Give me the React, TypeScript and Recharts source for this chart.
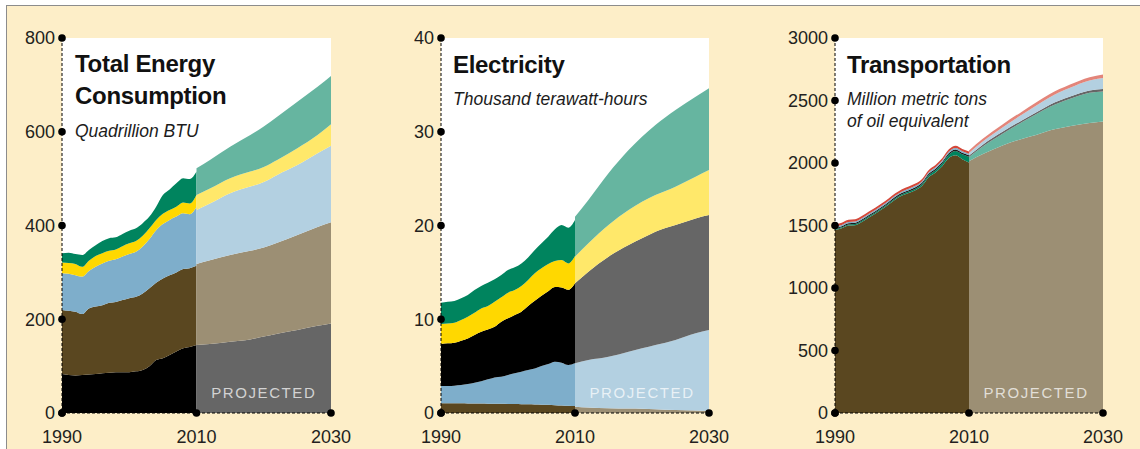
import { Area, AreaChart, CartesianGrid, ReferenceLine, XAxis, YAxis } from "recharts";

const FONT = '"Liberation Sans", Arial, sans-serif';

// shared year grids
const histYears = [
  1990, 1991, 1992, 1993, 1994, 1995, 1996, 1997, 1998, 1999, 2000,
  2001, 2002, 2003, 2004, 2005, 2006, 2007, 2008, 2009, 2010,
];
const projYears = [2010, 2012, 2015, 2018, 2020, 2022, 2025, 2028, 2030];
const xTicks = [1990, 2010, 2030];

// Total energy consumption, quadrillion BTU (stack bottom -> top)
const energyCoalHist = [83, 81, 80, 81, 82, 83, 85, 86, 87, 87, 87, 89, 92, 100, 113, 117, 124, 131, 138, 141, 145];
const energyOilHist = [137, 137, 136, 130, 141, 144, 145, 149, 150, 154, 158, 159, 163, 166, 165, 170, 170, 169, 169, 168, 169];
const energyGasHist = [78, 79, 78, 80, 80, 85, 89, 90, 91, 93, 94, 96, 100, 105, 112, 116, 118, 119, 119, 115, 126];
const energyNuclearHist = [23, 23, 24, 21, 22, 23, 22, 21, 21, 22, 23, 23, 23, 23, 22, 22, 21, 21, 23, 23, 25];
const energyRenewHist = [20, 22, 21, 25, 23, 23, 26, 27, 26, 26, 27, 27, 27, 25, 28, 40, 44, 50, 52, 52, 50];
const energyCoalProj = [145, 147, 152, 157, 163, 169, 177, 186, 191];
const energyOilProj = [173, 179, 185, 189, 190, 194, 203, 211, 216];
const energyGasProj = [115, 121, 132, 137, 140, 145, 149, 157, 163];
const energyNuclearProj = [32, 32, 32, 32, 32, 32, 36, 39, 46];
const energyRenewProj = [57, 61, 67, 78, 86, 92, 99, 103, 103];
const energyTicks = [0, 200, 400, 600, 800];

// Electricity, thousand TWh
const elecOilHist = [1.05, 1.05, 1.04, 1.03, 1.02, 1.02, 1.01, 1.0, 0.99, 0.98, 0.97, 0.96, 0.94, 0.93, 0.91, 0.89, 0.87, 0.84, 0.81, 0.78, 0.75];
const elecGasHist = [1.83, 1.83, 1.88, 1.96, 2.07, 2.22, 2.37, 2.59, 2.81, 2.89, 3.08, 3.27, 3.47, 3.66, 3.85, 4.12, 4.36, 4.64, 4.56, 4.34, 4.55];
const elecCoalHist = [4.48, 4.55, 4.58, 4.73, 4.87, 5.08, 5.3, 5.33, 5.4, 5.87, 6.05, 6.22, 6.4, 6.82, 7.22, 7.49, 7.77, 7.97, 8.03, 8.03, 8.55];
const elecNuclearHist = [2.13, 2.13, 2.13, 2.2, 2.32, 2.38, 2.48, 2.49, 2.67, 2.6, 2.74, 2.67, 2.74, 2.78, 2.92, 2.93, 2.89, 2.76, 2.92, 2.81, 2.9];
const elecRenewHist = [2.28, 2.31, 2.32, 2.31, 2.31, 2.42, 2.39, 2.49, 2.39, 2.38, 2.41, 2.42, 2.41, 2.41, 2.49, 2.67, 2.92, 3.38, 3.73, 3.81, 3.85];
const elecOilProj = [0.68, 0.6, 0.5, 0.47, 0.45, 0.4, 0.32, 0.28, 0.25];
const elecGasProj = [4.62, 5.05, 5.5, 6.07, 6.45, 6.85, 7.47, 8.22, 8.6];
const elecCoalProj = [8.53, 9.43, 10.68, 11.38, 11.73, 12.09, 12.26, 12.26, 12.27];
const elecNuclearProj = [2.85, 3.02, 3.37, 3.73, 3.91, 3.91, 4.09, 4.45, 4.8];
const elecRenewProj = [4.26, 4.62, 5.52, 6.4, 6.93, 7.47, 8.18, 8.53, 8.71];
const elecTicks = [0, 10, 20, 30, 40];

// Transportation, million tonnes oil equivalent
const transOilHist = [1465, 1478, 1500, 1503, 1528, 1562, 1595, 1630, 1668, 1708, 1740, 1760, 1782, 1818, 1888, 1925, 1975, 2040, 2062, 2030, 2005];
const transBioHist = [8, 8, 9, 9, 10, 10, 10, 10, 10, 11, 11, 12, 13, 14, 16, 18, 22, 28, 35, 40, 45];
const transGasHist = [9, 9, 9, 10, 10, 10, 10, 10, 11, 11, 11, 11, 12, 12, 12, 12, 12, 12, 12, 12, 12];
const transElecHist = [10, 10, 10, 10, 10, 10, 10, 10, 10, 10, 11, 11, 11, 11, 11, 12, 12, 12, 12, 13, 13];
const transOtherHist = [18, 18, 18, 18, 18, 18, 18, 18, 18, 18, 18, 18, 18, 18, 18, 18, 18, 18, 18, 18, 18];
const transOilProj = [2015, 2070, 2140, 2195, 2225, 2260, 2295, 2320, 2332];
const transBioProj = [33, 60, 95, 135, 165, 188, 217, 242, 240];
const transGasProj = [12, 15, 15, 15, 15, 17, 18, 18, 20];
const transElecProj = [20, 25, 35, 45, 53, 60, 70, 80, 88];
const transOtherProj = [20, 22, 24, 25, 26, 26, 26, 27, 28];
const transTicks = [0, 500, 1000, 1500, 2000, 2500, 3000];

type Layer = { key: string; hist: number[]; proj: number[]; dark: string; light: string };

const energyLayers: Layer[] = [
  { key: "coal", hist: energyCoalHist, proj: energyCoalProj, dark: "#000000", light: "#666666" },
  { key: "oil", hist: energyOilHist, proj: energyOilProj, dark: "#5a4720", light: "#9c8f74" },
  { key: "gas", hist: energyGasHist, proj: energyGasProj, dark: "#7eaecb", light: "#b3d0e1" },
  { key: "nuclear", hist: energyNuclearHist, proj: energyNuclearProj, dark: "#ffd800", light: "#ffe86a" },
  { key: "renew", hist: energyRenewHist, proj: energyRenewProj, dark: "#00845e", light: "#66b5a0" },
];

const elecLayers: Layer[] = [
  { key: "oil", hist: elecOilHist, proj: elecOilProj, dark: "#5a4720", light: "#9c8f74" },
  { key: "gas", hist: elecGasHist, proj: elecGasProj, dark: "#7eaecb", light: "#b3d0e1" },
  { key: "coal", hist: elecCoalHist, proj: elecCoalProj, dark: "#000000", light: "#666666" },
  { key: "nuclear", hist: elecNuclearHist, proj: elecNuclearProj, dark: "#ffd800", light: "#ffe86a" },
  { key: "renew", hist: elecRenewHist, proj: elecRenewProj, dark: "#00845e", light: "#66b5a0" },
];

const transLayers: Layer[] = [
  { key: "oil", hist: transOilHist, proj: transOilProj, dark: "#5a4720", light: "#9c8f74" },
  { key: "bio", hist: transBioHist, proj: transBioProj, dark: "#00845e", light: "#66b5a0" },
  { key: "gas", hist: transGasHist, proj: transGasProj, dark: "#1a1a1a", light: "#666666" },
  { key: "elec", hist: transElecHist, proj: transElecProj, dark: "#7eaecb", light: "#b3d0e1" },
  { key: "other", hist: transOtherHist, proj: transOtherProj, dark: "#d4483a", light: "#e3857a" },
];

function buildRows(layers: Layer[]) {
  const years = Array.from(new Set([...histYears, ...projYears])).sort((a, b) => a - b);
  return years.map((year) => {
    const row: Record<string, number | null> = { year };
    const hi = histYears.indexOf(year);
    const pi = projYears.indexOf(year);
    layers.forEach((l) => {
      row[l.key + "H"] = hi >= 0 ? l.hist[hi] : null;
      row[l.key + "P"] = pi >= 0 ? l.proj[pi] : null;
    });
    return row;
  });
}

const Y_GAP = 7;

function YTick(props: any) {
  const { x, y, payload } = props;
  return (
    <g>
      <circle cx={x + Y_GAP} cy={y} r={3.8} fill="#000" />
      <text x={x} y={y} dy="0.36em" textAnchor="end" fontSize={18} fill="#231f20" fontFamily={FONT}>
        {payload.value}
      </text>
    </g>
  );
}

function XTick(props: any) {
  const { x, y, payload } = props;
  return (
    <g>
      <circle cx={x} cy={y} r={3.8} fill="#000" />
      <text x={x} y={y + 30} textAnchor="middle" fontSize={18} fill="#231f20" fontFamily={FONT}>
        {payload.value}
      </text>
    </g>
  );
}

function ProjectedLabel(props: any) {
  const vb = props.viewBox || {};
  return (
    <text
      x={vb.x}
      y={(vb.y || 0) + (vb.height || 0) - 15}
      textAnchor="middle"
      fontSize={15}
      letterSpacing={1.6}
      fill="#ffffff"
      fillOpacity={0.72}
      fontFamily={FONT}
    >
      PROJECTED
    </text>
  );
}

interface PanelProps {
  left: number;
  plotLeft: number;
  plotRight: number;
  yAxisWidth: number;
  yTicks: number[];
  layers: Layer[];
}

function Panel({ left, plotLeft, plotRight, yAxisWidth, yTicks, layers }: PanelProps) {
  const width = 380;
  const rows = buildRows(layers);
  return (
    <div style={{ position: "absolute", left, top: 0 }}>
      <AreaChart
        width={width}
        height={449}
        data={rows}
        margin={{ top: 38, right: left + width - plotRight, bottom: 6, left: plotLeft - left - yAxisWidth }}
      >
        <CartesianGrid fill="#ffffff" stroke="none" horizontal={false} vertical={false} />
        <XAxis
          dataKey="year"
          type="number"
          domain={[1990, 2030]}
          ticks={xTicks}
          height={30}
          tickSize={0}
          tickMargin={0}
          tickLine={false}
          axisLine={{ stroke: "#000", strokeDasharray: "3 2" }}
          tick={(p: any) => <XTick {...p} />}
        />
        <YAxis
          type="number"
          domain={[yTicks[0], yTicks[yTicks.length - 1]]}
          ticks={yTicks}
          width={yAxisWidth}
          tickSize={0}
          tickMargin={Y_GAP}
          tickLine={false}
          axisLine={{ stroke: "#000", strokeDasharray: "3 2" }}
          tick={(p: any) => <YTick {...p} />}
        />
        {layers.map((l) => (
          <Area
            key={l.key + "H"}
            dataKey={l.key + "H"}
            stackId="hist"
            type="monotone"
            fill={l.dark}
            fillOpacity={1}
            stroke="none"
            isAnimationActive={false}
          />
        ))}
        {layers.map((l) => (
          <Area
            key={l.key + "P"}
            dataKey={l.key + "P"}
            stackId="proj"
            type="monotone"
            fill={l.light}
            fillOpacity={1}
            stroke="none"
            isAnimationActive={false}
          />
        ))}
        <ReferenceLine x={2020} stroke="none" label={(p: any) => <ProjectedLabel {...p} />} />
      </AreaChart>
    </div>
  );
}

export default function App() {
  const titleStyle = { fontFamily: FONT, fontWeight: 700, fontSize: 24, fill: "#111", letterSpacing: -0.3 };
  const subStyle = { fontFamily: FONT, fontStyle: "italic" as const, fontSize: 17.5, fill: "#1c1c1c" };
  return (
    <div style={{ position: "fixed", left: 0, top: 0, width: 1140, height: 449, background: "#fff", overflow: "hidden" }}>
      <div
        style={{
          position: "absolute",
          left: 6,
          top: 5,
          right: 0,
          bottom: 0,
          background: "#fdeec8",
          borderTop: "1.5px solid #8c8c8c",
          borderLeft: "1.5px solid #8c8c8c",
        }}
      />
      <Panel left={0} plotLeft={62} plotRight={331} yAxisWidth={50} yTicks={energyTicks} layers={energyLayers} />
      <Panel left={380} plotLeft={441} plotRight={709} yAxisWidth={50} yTicks={elecTicks} layers={elecLayers} />
      <Panel left={760} plotLeft={835} plotRight={1103} yAxisWidth={60} yTicks={transTicks} layers={transLayers} />
      <svg width={1140} height={449} style={{ position: "absolute", left: 0, top: 0, pointerEvents: "none" }}>
        <text x={75} y={72} style={titleStyle}>Total Energy</text>
        <text x={75} y={104} style={titleStyle}>Consumption</text>
        <text x={75} y={137} style={subStyle}>Quadrillion BTU</text>
        <text x={453} y={72.5} style={titleStyle}>Electricity</text>
        <text x={453} y={105} style={subStyle}>Thousand terawatt-hours</text>
        <text x={847} y={72.5} style={titleStyle}>Transportation</text>
        <text x={847} y={105} style={subStyle}>Million metric tons</text>
        <text x={847} y={126.5} style={subStyle}>of oil equivalent</text>
      </svg>
    </div>
  );
}
